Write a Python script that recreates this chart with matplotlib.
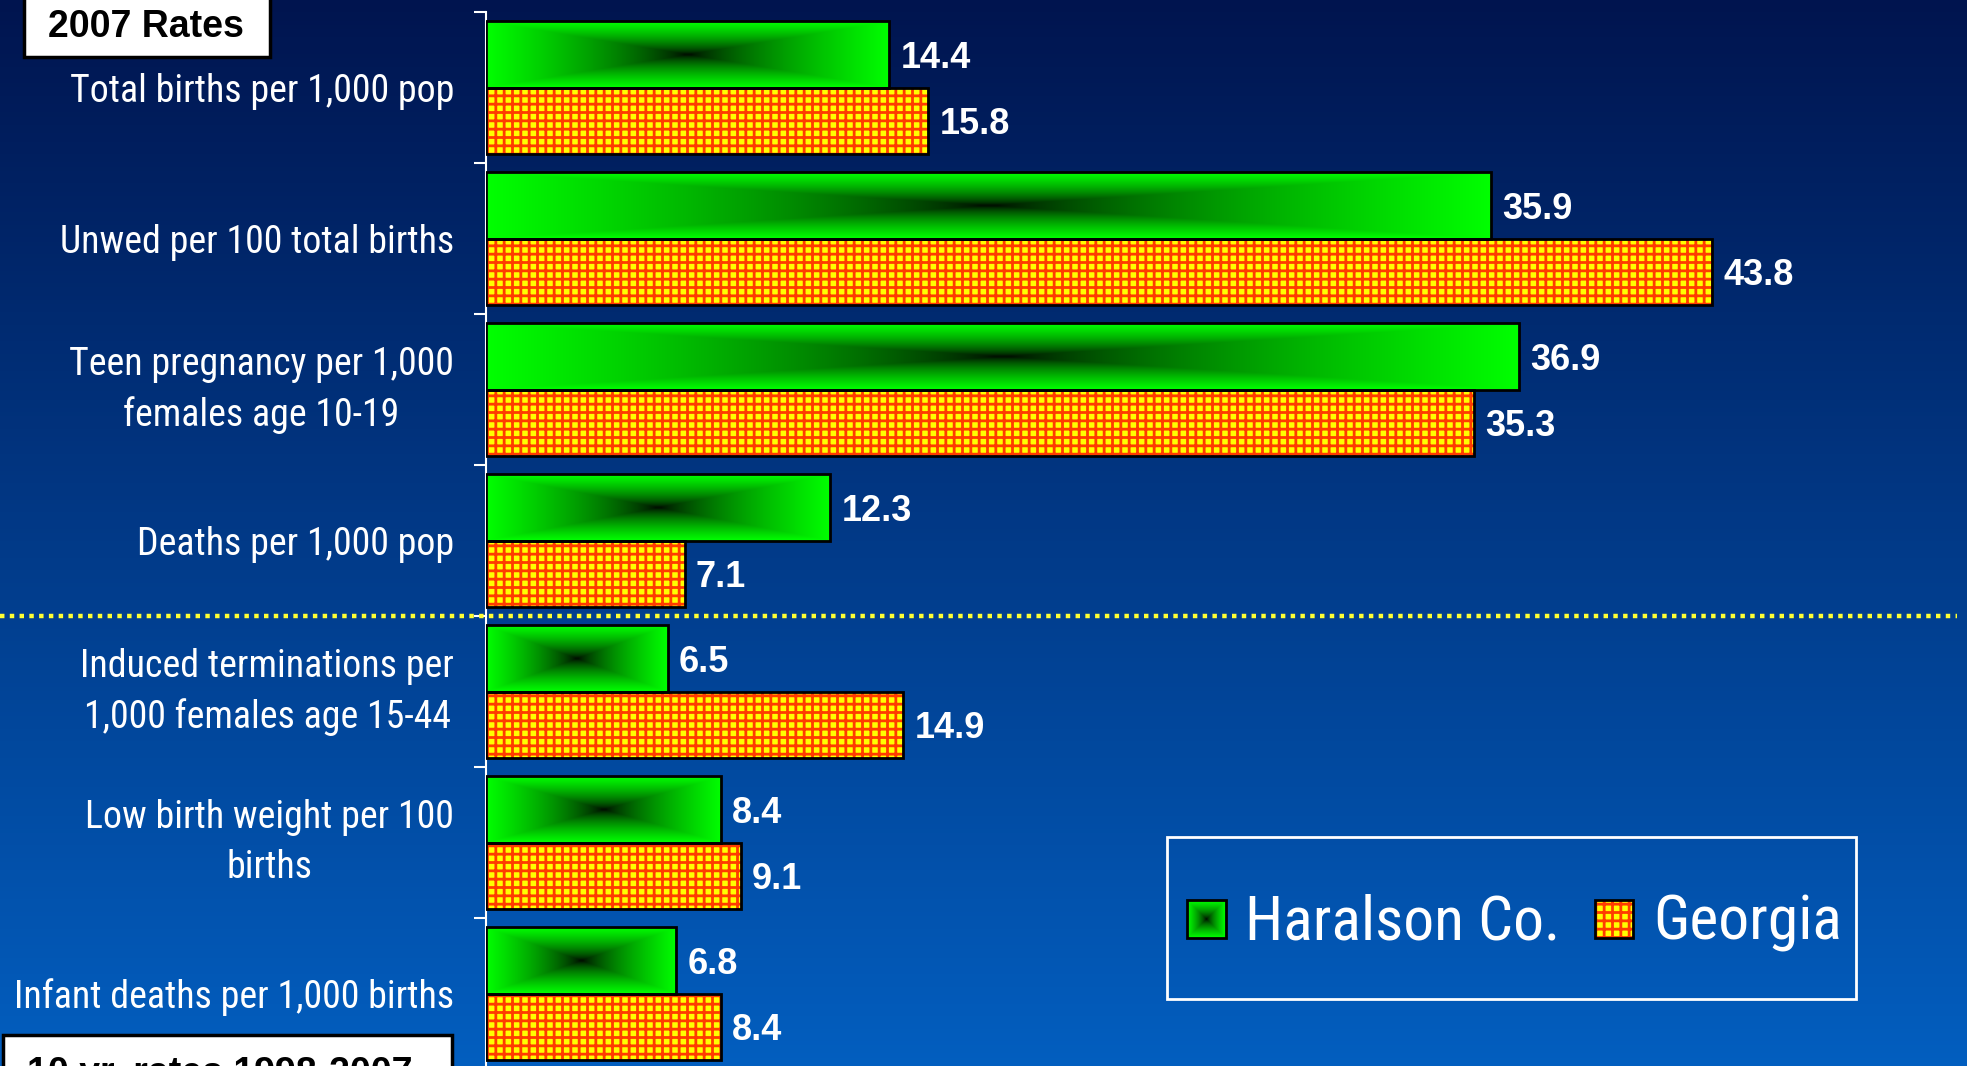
import numpy as np
import matplotlib.pyplot as plt
from matplotlib import font_manager
from matplotlib.patches import Rectangle

# ---------------- data ----------------
categories = ["Total births per 1,000 pop",
              "Unwed per 100 total births",
              "Teen pregnancy per 1,000\nfemales age 10-19",
              "Deaths per 1,000 pop",
              "Induced terminations per\n1,000 females age 15-44",
              "Low birth weight per 100\nbirths",
              "Infant deaths per 1,000 births"]
haralson = [14.4, 35.9, 36.9, 12.3, 6.5, 8.4, 6.8]
georgia = [15.8, 43.8, 35.3, 7.1, 14.9, 9.1, 8.4]
series_names = ["Haralson Co.", "Georgia"]
box_top = "2007 Rates"
box_bottom = "10 yr. rates 1998-2007"

W, H = 1967, 1066
bold_font = "Liberation Sans"
plt.rcParams['hatch.linewidth'] = 2.0

YELLOW = "#FFFF00"
GRID = "#FF3C00"


# narrow font for labels (Arial Narrow look); fall back to a condensed face
def pick_narrow():
    names = {}
    for f in font_manager.fontManager.ttflist:
        names.setdefault(f.name, set()).add(str(f.stretch))
    for n in ["Liberation Sans Narrow", "Arial Narrow", "Roboto Condensed",
              "Open Sans Condensed", "Noto Sans Condensed"]:
        if n in names:
            return dict(family=n)
    for n in ["Roboto", "Noto Sans", "Open Sans", "DejaVu Sans"]:
        st = names.get(n, set())
        for s in ["condensed", "semi-condensed", "extra-condensed", "62.5", "75", "87.5"]:
            if s in st:
                return dict(family=n, stretch=s)
    return dict(family="Liberation Sans")


NARROW = pick_narrow()


def green_grad(nx=300, ny=60):
    # rectangular "from center" gradient: black centre, bright green edges
    u = np.abs(np.linspace(-1, 1, nx))[None, :]
    v = np.abs(np.linspace(-1, 1, ny))[:, None]
    t = np.maximum(u, v)
    img = np.zeros((ny, nx, 3))
    img[..., 1] = np.clip(t, 0, 1) ** 0.65
    return img


fig = plt.figure(figsize=(W / 100, H / 100), dpi=100)
renderer = fig.canvas.get_renderer()


def fit_size(s, target_px, base=30, **kw):
    t = fig.text(0, 0, s, fontsize=base, **kw)
    w = t.get_window_extent(renderer).width
    t.remove()
    return base * target_px / w


label_size = fit_size(categories[0], 384, **NARROW)
legend_size = fit_size(series_names[0], 315, **NARROW)
label_spacing = 48 / (0.877 * label_size * 100 / 72)

# ---------------- background + decorations (pixel coords) ----------------
deco = fig.add_axes([0, 0, 1, 1], zorder=0)
deco.axis("off")
top_c = np.array([0.00, 0.08, 0.31])
bot_c = np.array([0.01, 0.37, 0.75])
s = np.linspace(0, 1, 256)[:, None, None]
bg = top_c * (1 - s) + bot_c * s
deco.imshow(np.repeat(bg, 2, axis=1), extent=(0, W, H, 0), aspect="auto", zorder=0)

# "2007 Rates" box
deco.add_patch(Rectangle((24, -5), 246, 62, facecolor="white", edgecolor="black", lw=2.5, zorder=2))
deco.text(48, 37, box_top, fontsize=27, fontweight="bold", family=bold_font,
          color="black", va="baseline", zorder=3)
# bottom box (cut by frame)
deco.add_patch(Rectangle((3, 1035), 449, 60, facecolor="white", edgecolor="black", lw=2.5, zorder=2))
deco.text(27, 1084, box_bottom, fontsize=27, fontweight="bold", family=bold_font,
          color="black", va="baseline", zorder=3)

# legend
deco.add_patch(Rectangle((1166.5, 836.5), 689, 162, facecolor="none", edgecolor="white", lw=2, zorder=2))
deco.imshow(green_grad(40, 40), extent=(1187, 1226, 938, 900), aspect="auto",
            interpolation="bilinear", zorder=3)
deco.add_patch(Rectangle((1187, 900), 39, 38, facecolor="none", edgecolor="black", lw=2, zorder=4))
deco.text(1245, 940, series_names[0], fontsize=legend_size, color="white",
          va="baseline", zorder=3, **NARROW)
deco.add_patch(Rectangle((1595, 900), 38, 38, facecolor=YELLOW, edgecolor=GRID, lw=0,
                         hatch="++", zorder=3))
deco.add_patch(Rectangle((1595, 900), 38, 38, facecolor="none", edgecolor="black", lw=2, zorder=4))
deco.text(1653, 940, series_names[1], fontsize=legend_size, color="white",
          va="baseline", zorder=3, **NARROW)
deco.set_xlim(0, W)
deco.set_ylim(H, 0)

# ---------------- main chart ----------------
left = 486 / W
ax = fig.add_axes([left, -3 / H, 1 - left, (1069 - 12.3) / H], zorder=1)
ax.patch.set_alpha(0)

y = np.arange(len(categories))
h = 0.44
y_h = y - h / 2
y_g = y + h / 2

for yi, v in zip(y_h, haralson):
    ax.imshow(green_grad(), extent=(0, v, yi + h / 2, yi - h / 2), aspect="auto",
              interpolation="bilinear", zorder=2)
ax.barh(y_h, haralson, height=h, facecolor="none", edgecolor="black", lw=2, zorder=3)

ax.barh(y_g, georgia, height=h, facecolor=YELLOW, edgecolor=GRID, lw=0,
        hatch="++", zorder=2)
ax.barh(y_g, georgia, height=h, facecolor="none", edgecolor="black", lw=2, zorder=3)

for yi, v in zip(y_h, haralson):
    ax.annotate(f"{v:.1f}", xy=(v, yi), xytext=(8, 0), textcoords="offset points",
                ha="left", va="center_baseline", color="white", fontsize=26,
                fontweight="bold", family=bold_font)
for yi, v in zip(y_g, georgia):
    ax.annotate(f"{v:.1f}", xy=(v, yi), xytext=(8, 0), textcoords="offset points",
                ha="left", va="center_baseline", color="white", fontsize=26,
                fontweight="bold", family=bold_font)

# separator between 2007 rates and 10 yr rates
ax.axhline(3.5, xmin=-486 / 1481, xmax=(1957 - 486) / 1481, clip_on=False,
           color="#FFFF33", lw=3.2, linestyle=(0, (1, 1.2)), zorder=4)

ax.set_xlim(0, 1481 / 28.0)
ax.set_ylim(6.5, -0.5)
ax.set_yticks(y)
ax.set_yticklabels(categories, fontsize=label_size, color="white",
                   linespacing=label_spacing, **NARROW)
for t in ax.get_yticklabels():
    t.set_multialignment("center")
    if "\n" in t.get_text():
        t.set_verticalalignment("center")
ax.set_yticks(np.arange(-0.5, 7, 1), minor=True)
ax.tick_params(axis="y", which="major", length=0, pad=23)
ax.tick_params(axis="y", which="minor", length=9, width=1.5, color="white", direction="out")
ax.set_xticks([])
for sp in ["top", "right", "bottom"]:
    ax.spines[sp].set_visible(False)
ax.spines["left"].set_color("white")
ax.spines["left"].set_linewidth(1.5)

fig.savefig("out.png", dpi=100)
